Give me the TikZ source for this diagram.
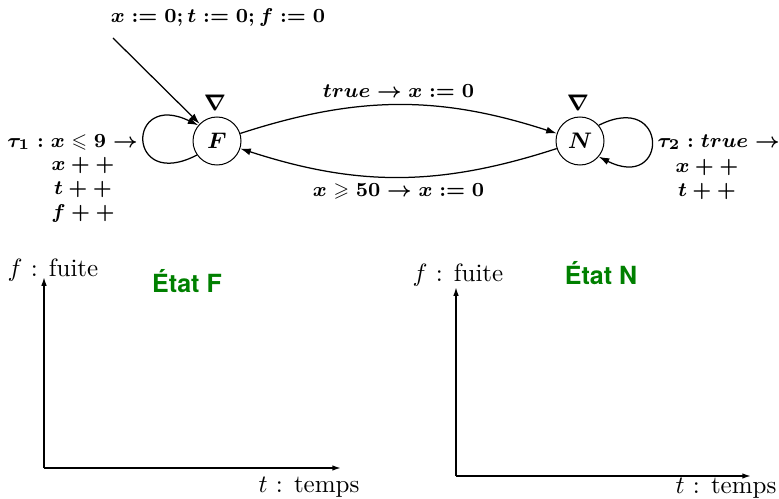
\documentclass[tikz,border=0pt]{standalone}
\usepackage{amssymb}
\usepackage{fontspec}
\newfontfamily\heros{TeX Gyre Heros}
\usetikzlibrary{arrows.meta}
\definecolor{etatgreen}{RGB}{0,128,0}
\begin{document}
\begin{tikzpicture}[x=0.4pt,y=-0.4pt,
  state/.style={circle,draw,minimum size=19.2pt,inner sep=0pt,font=\fontsize{9}{10}\selectfont\boldmath},
  trans/.style={-{Latex[length=4.2pt,width=2.8pt]},line width=0.5pt},
  axis/.style={-{Latex[length=3.5pt,width=2.2pt]},line width=0.6pt},
  blab/.style={font=\fontsize{8}{9.6}\selectfont\boldmath,inner sep=0pt,align=center},
  etat/.style={font=\heros\bfseries\fontsize{10}{12}\selectfont,text=etatgreen,inner sep=0pt},
  axlab/.style={inner sep=0pt}]
\useasboundingbox (0,0) rectangle (779,499);
% states
\node[state] (F) at (217,141) {$F$};
\node[state] (N) at (580,141) {$N$};
\node[blab,font=\fontsize{9}{10}\selectfont\boldmath] (nablaF) at (215,103) {$\nabla$};
\node[blab,font=\fontsize{9}{10}\selectfont\boldmath] (nablaN) at (578,103) {$\nabla$};
% initial
\node[blab] (init) at (218,18) {$x:=0;t:=0;f:=0$};
\coordinate (start) at (113,38);
\draw[trans] (start) -- (F);
% self loops
\draw[trans] (F.215) .. controls (126,192) and (126,90) .. (F.140);
\draw[trans] (N.40) .. controls (669,90) and (669,192) .. (N.-40);
% edges
\draw[trans] (F) to[bend left=18] node[blab,above=2.5pt] (lab1) {$true\rightarrow x:=0$} (N);
\draw[trans] (N) to[bend left=18] node[blab,below=2.5pt] (lab2) {$x\geqslant 50\rightarrow x:=0$} (F);
% loop labels
\node[blab,anchor=east] (tau1) at (138,142) {$\tau_1:x\leqslant 9\rightarrow$};
\node[blab] (ops1) at (83,190) {$x++$\\$t++$\\$f++$};
\node[blab,anchor=west] (tau2) at (657,142) {$\tau_2:true\rightarrow$};
\node[blab] (ops2) at (707,179) {$x++$\\$t++$};
% left plot
\coordinate (o1) at (44,468);
\coordinate (y1) at (44,277);
\coordinate (x1) at (341,468);
\draw[axis] (o1) -- (y1);
\draw[axis] (o1) -- (x1);
\node[axlab] (fl1) at (53,270) {$f$ : fuite};
\node[axlab] (tl1) at (309,487) {$t$ : temps};
\node[etat] (etatF) at (187,281) {État F};
% right plot
\coordinate (o2) at (456,476);
\coordinate (y2) at (456,287);
\coordinate (x2) at (751,476);
\draw[axis] (o2) -- (y2);
\draw[axis] (o2) -- (x2);
\node[axlab] (fl2) at (458,275) {$f$ : fuite};
\node[axlab] (tl2) at (726,488) {$t$ : temps};
\node[etat] (etatN) at (601,273) {État N};
\end{tikzpicture}
\end{document}
